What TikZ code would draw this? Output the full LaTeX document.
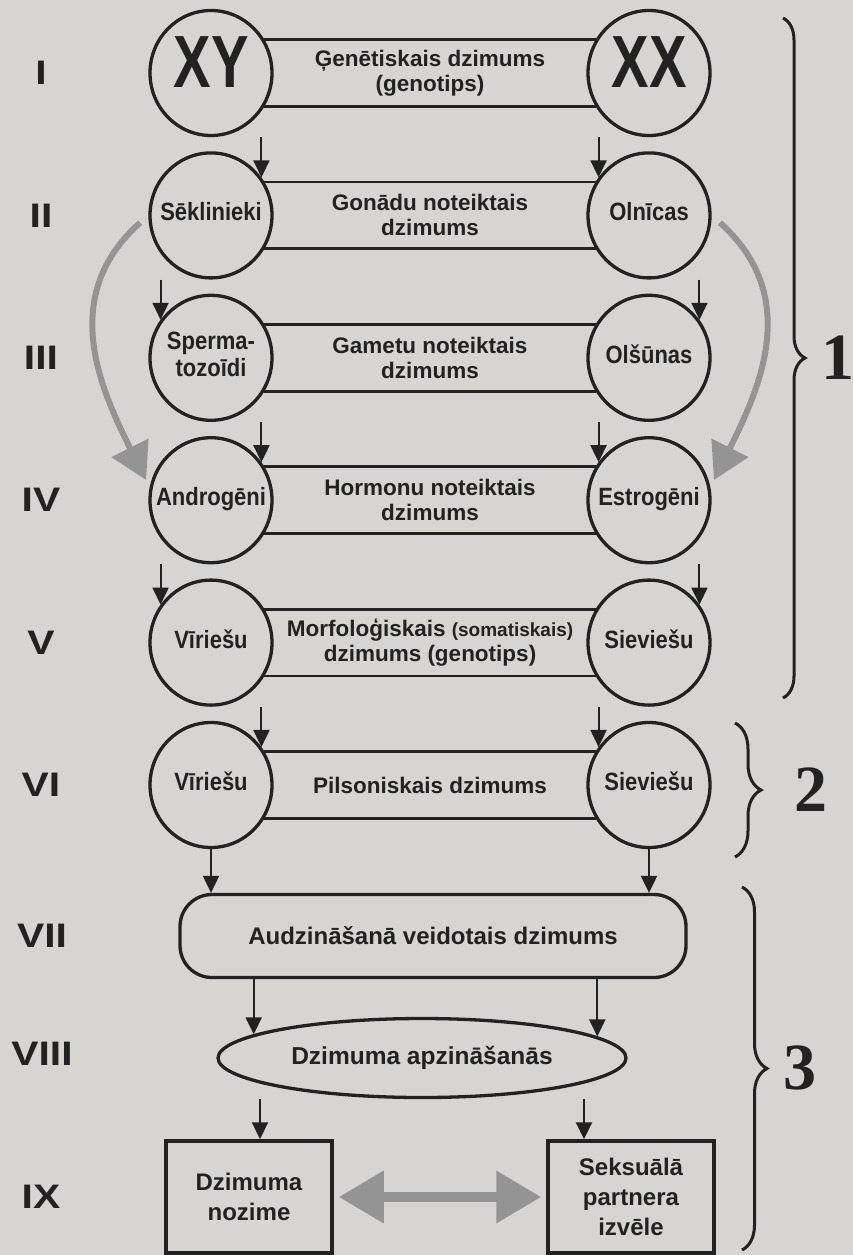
\documentclass[tikz,border=0pt]{standalone}
\usepackage{fontspec}
\setmainfont{Liberation Sans}
\newfontfamily\narrowfont[FakeStretch=0.88]{Liberation Sans}
\newfontfamily\tallfont[FakeStretch=0.76]{Liberation Sans}
\newfontfamily\widefont[FakeStretch=1.2]{Liberation Sans}
\newfontfamily\digitfont{Liberation Serif}
\usetikzlibrary{arrows.meta,decorations.pathreplacing,shapes.geometric}

\definecolor{paper}{RGB}{214,213,209}
\definecolor{ink}{RGB}{34,34,34}
\definecolor{shade}{RGB}{148,148,148}

\newcommand{\incell}[1]{\makebox[0pt]{\begin{tabular}{@{}c@{}}#1\end{tabular}}}

\tikzset{
  cell/.style={ellipse, draw=ink, line width=3.3pt, minimum width=122pt, minimum height=125pt, inner sep=0pt, font=\narrowfont\bfseries\fontsize{25}{27}\selectfont, text=ink},
  chrom/.style={font=\tallfont\bfseries\fontsize{74}{74}\selectfont},
  band/.style={font=\bfseries\fontsize{22.5}{25}\selectfont, align=center, inner sep=0pt, text=ink},
  roman/.style={font=\widefont\bfseries\fontsize{34}{34}\selectfont, text=ink},
  tag/.style={font=\digitfont\bfseries\fontsize{66}{66}\selectfont, text=ink},
  box/.style={draw=ink, line width=3.5pt, minimum width=166pt, minimum height=112pt, align=center, font=\bfseries\fontsize{24}{30}\selectfont, text=ink},
  rail/.style={draw=ink, line width=2.8pt},
  dn/.style={->, draw=ink, line width=2pt},
  brc/.style={draw=ink, line width=3pt, decorate, decoration={brace, amplitude=#1}},
  shadearrow/.style={draw=shade, line width=6pt, -{Triangle[length=36pt,width=40pt]}},
  wide/.style={draw=shade, line width=10pt, {Triangle[length=45pt,width=50pt]}-{Triangle[length=45pt,width=50pt]}, shorten <=5pt, shorten >=5pt}
}

\begin{document}
\begin{tikzpicture}[x=1pt,y=1pt,>={Triangle[length=17pt,width=16pt]},node distance=142.4pt]
\useasboundingbox (0,0) rectangle (853,-1255);
\fill[paper] (0,0) rectangle (853,-1255);

% left column
\node[cell, chrom] (lI) at (211,-73) {\incell{XY}};
\node[cell] (lII) [below of=lI] {\incell{Sēklinieki}};
\node[cell] (lIII) [below of=lII] {\incell{Sperma-\\tozoīdi}};
\node[cell] (lIV) [below of=lIII] {\incell{Androgēni}};
\node[cell] (lV) [below of=lIV] {\incell{Vīriešu}};
\node[cell] (lVI) [below of=lV] {\incell{Vīriešu}};

% right column
\node[cell, chrom] (rI) [right of=lI, node distance=438pt] {\incell{XX}};
\node[cell] (rII) [below of=rI] {\incell{Olnīcas}};
\node[cell] (rIII) [below of=rII] {\incell{Olšūnas}};
\node[cell] (rIV) [below of=rIII] {\incell{Estrogēni}};
\node[cell] (rV) [below of=rIV] {\incell{Sieviešu}};
\node[cell] (rVI) [below of=rV] {\incell{Sieviešu}};

% texts between the columns
\node[band] (tI) [right of=lI, node distance=219pt] {Ģenētiskais dzimums\\(genotips)};
\node[band] (tII) [right of=lII, node distance=219pt] {Gonādu noteiktais\\dzimums};
\node[band] (tIII) [right of=lIII, node distance=219pt] {Gametu noteiktais\\dzimums};
\node[band] (tIV) [right of=lIV, node distance=219pt] {Hormonu noteiktais\\dzimums};
\node[band] (tV) [right of=lV, node distance=219pt] {Morfoloģiskais {\fontsize{19}{25}\selectfont(somatiskais)}\\dzimums (genotips)};
\node[band] (tVI) [right of=lVI, node distance=219pt] {Pilsoniskais dzimums};

% lower part
\node[draw=ink, line width=3.3pt, rounded corners=32pt, minimum width=506pt, minimum height=83pt, font=\bfseries\fontsize{24}{26}\selectfont, text=ink] (aud) at (433,-936) {Audzināšanā veidotais dzimums};
\node[ellipse, draw=ink, line width=3.3pt, minimum width=408pt, minimum height=79pt, inner sep=0pt, font=\bfseries\fontsize{24.5}{26}\selectfont, text=ink] (apz) at (422,-1058) {Dzimuma apzināšanās};
\node[box] (bL) at (249,-1197) {Dzimuma\\nozime};
\node[box] (bR) at (631,-1197) {Seksuālā\\partnera\\izvēle};

% row numbers
\node[roman] (nI) [left of=lI, node distance=170pt] {I};
\node[roman] (nII) [left of=lII, node distance=170pt] {II};
\node[roman] (nIII) [left of=lIII, node distance=170pt] {III};
\node[roman] (nIV) [left of=lIV, node distance=170pt] {IV};
\node[roman] (nV) [left of=lV, node distance=170pt] {V};
\node[roman] (nVI) [left of=lVI, node distance=170pt] {VI};
\node[roman] (nVII) at (42,-936) {VII};
\node[roman] (nVIII) at (42,-1054) {VIII};
\node[roman] (nIX) at (41,-1197) {IX};

% rails
\draw[rail] (lI.32) -- (rI.148);
\draw[rail] (lI.-32) -- (rI.-148);
\draw[rail] (lII.32) -- (rII.148);
\draw[rail] (lII.-32) -- (rII.-148);
\draw[rail] (lIII.32) -- (rIII.148);
\draw[rail] (lIII.-32) -- (rIII.-148);
\draw[rail] (lIV.32) -- (rIV.148);
\draw[rail] (lIV.-32) -- (rIV.-148);
\draw[rail] (lV.32) -- (rV.148);
\draw[rail] (lV.-32) -- (rV.-148);
\draw[rail] (lVI.32) -- (rVI.148);
\draw[rail] (lVI.-32) -- (rVI.-148);

% arrows down
\draw[dn] (lI.-37 |- lI.south) -- (lII.37);
\draw[dn] (rI.-143 |- rI.south) -- (rII.143);
\draw[dn] (lII.-143 |- lII.south) -- (lIII.143);
\draw[dn] (rII.-37 |- rII.south) -- (rIII.37);
\draw[dn] (lIII.-37 |- lIII.south) -- (lIV.37);
\draw[dn] (rIII.-143 |- rIII.south) -- (rIV.143);
\draw[dn] (lIV.-143 |- lIV.south) -- (lV.143);
\draw[dn] (rIV.-37 |- rIV.south) -- (rV.37);
\draw[dn] (lV.-37 |- lV.south) -- (lVI.37);
\draw[dn] (rV.-143 |- rV.south) -- (rVI.143);
\draw[dn] (lVI.south) -- (lVI.south |- aud.north);
\draw[dn] (rVI.south) -- (rVI.south |- aud.north);
\draw[dn] (apz.172.2 |- aud.south) -- (apz.172.2);
\draw[dn] (apz.7.8 |- aud.south) -- (apz.7.8);
\draw[dn] ([xshift=-162pt]apz.south) -- ([xshift=-162pt]apz.south |- bL.north);
\draw[dn] ([xshift=162pt]apz.south) -- ([xshift=162pt]apz.south |- bR.north);

% grey arrows
\draw[shadearrow, shorten <=11pt, shorten >=8pt] (lII.west) .. controls +(-90,-80) and +(-50,100) .. (lIV.168);
\draw[shadearrow, shorten <=11pt, shorten >=8pt] (rII.east) .. controls +(90,-80) and +(50,100) .. (rIV.12);
\draw[wide] (bL.east) -- (bR.west);

% braces
\draw[brc=22pt] (783,-18) -- (783,-698);
\draw[brc=26pt] (735,-723) -- (735,-857);
\draw[brc=25pt] (742,-887) -- (742,-1250);
\node[tag] (g1) at (838,-358) {1};
\node[tag] (g2) at (811,-790) {2};
\node[tag] (g3) at (800,-1068) {3};
\end{tikzpicture}
\end{document}
